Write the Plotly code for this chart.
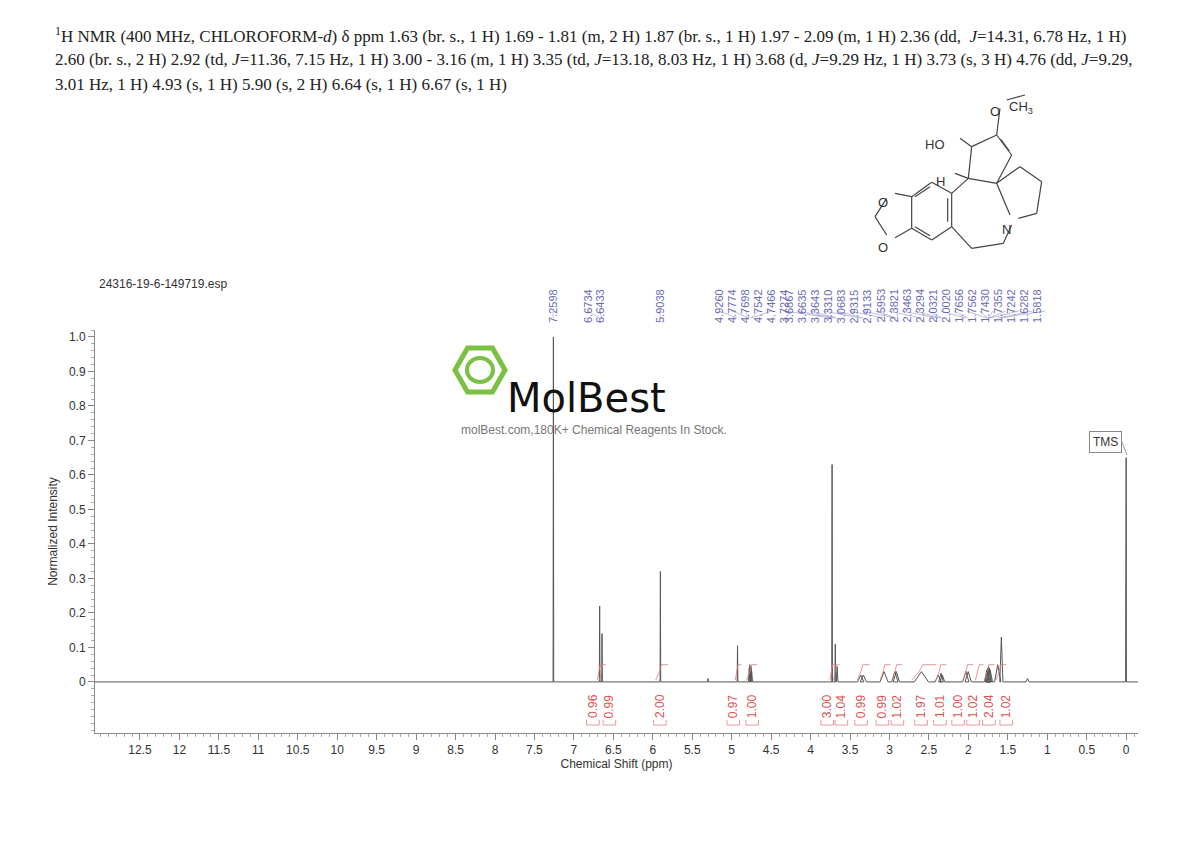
import plotly.graph_objects as go

# peak list: position (ppm), normalized height, half width (ppm)
peak_ppm = [7.2598, 6.6734, 6.6433, 5.9038, 5.30, 4.9260, 4.7774, 4.7698, 4.7542, 4.7466,
            3.7274, 3.6867, 3.6635, 3.3643, 3.3310, 3.0683, 2.9315, 2.9133, 2.5953,
            2.3821, 2.3463, 2.3294, 2.0321, 2.0020, 1.7656, 1.7562, 1.7430, 1.7355,
            1.7242, 1.6282, 1.5818, 1.25, 0.0, 0.004]
peak_height = [1.0, 0.22, 0.14, 0.32, 0.01, 0.105, 0.04, 0.05, 0.045, 0.03,
               0.63, 0.11, 0.045, 0.02, 0.02, 0.03, 0.03, 0.03, 0.03,
               0.02, 0.025, 0.02, 0.03, 0.03, 0.035, 0.04, 0.045, 0.04,
               0.035, 0.05, 0.13, 0.01, 0.65, 0.32]
peak_width = [0.004, 0.004, 0.004, 0.004, 0.004, 0.005, 0.01, 0.01, 0.01, 0.01,
              0.004, 0.006, 0.01, 0.04, 0.04, 0.05, 0.04, 0.04, 0.09,
              0.04, 0.03, 0.03, 0.04, 0.04, 0.03, 0.03, 0.03, 0.03,
              0.03, 0.04, 0.02, 0.02, 0.003, 0.003]

# picked peak labels (blue, top)
label_values = ["7.2598", "6.6734", "6.6433", "5.9038", "4.9260", "4.7774", "4.7698", "4.7542",
                "4.7466", "3.7274", "3.6867", "3.6635", "3.3643", "3.3310", "3.0683", "2.9315",
                "2.9133", "2.5953", "2.3821", "2.3463", "2.3294", "2.0321", "2.0020", "1.7656",
                "1.7562", "1.7430", "1.7355", "1.7242", "1.6282", "1.5818"]
label_px = [553, 588, 600, 660] + [719 + 13.04 * i for i in range(26)]

# integrals: label position (ppm), value
integral_ppm = [6.76, 6.55, 5.91, 4.98, 4.74, 3.79, 3.61, 3.36, 3.09, 2.90, 2.60, 2.36, 2.13, 1.94, 1.74, 1.52]
integral_val = ["0.96", "0.99", "2.00", "0.97", "1.00", "3.00", "1.04", "0.99", "0.99", "1.02",
                "1.97", "1.01", "1.00", "1.02", "2.04", "1.02"]

x_ticks = [12.5 - 0.5 * i for i in range(26)]
y_ticks = [0, 0.1, 0.2, 0.3, 0.4, 0.5, 0.6, 0.7, 0.8, 0.9, 1.0]

X0, X1 = 13.07, -0.15
Y0, Y1 = -0.148, 1.02


def paper_x(px):
    return (px - 95) / 1043


def paper_y(py):
    return (733 - py) / 403


# spectrum trace: baseline with peaks
xs, ys = [X0], [0]
for p, h, w in sorted(zip(peak_ppm, peak_height, peak_width), reverse=True):
    xs += [p + w, p, p - w]
    ys += [0, h, 0]
xs.append(X1)
ys.append(0)

fig = go.Figure()
fig.add_trace(go.Scatter(x=xs, y=ys, mode="lines", line=dict(color="#555555", width=1),
                         hoverinfo="skip", showlegend=False))

# integral curves (red) over each region
for p, w in zip([6.6734, 6.6433, 5.9038, 4.926, 4.76, 3.7274, 3.68, 3.35, 3.07, 2.92, 2.60, 2.36, 2.02, 1.87, 1.75, 1.60],
                [0.03, 0.03, 0.06, 0.03, 0.05, 0.03, 0.03, 0.06, 0.05, 0.05, 0.12, 0.05, 0.05, 0.04, 0.05, 0.05]):
    fig.add_trace(go.Scatter(x=[p + w, p + w * 0.2, p - w * 0.2, p - w * 1.6],
                             y=[0.005, 0.03, 0.05, 0.05], mode="lines",
                             line=dict(color="#e08080", width=0.8), hoverinfo="skip", showlegend=False))

shapes = []
annotations = []
for v, p in zip(integral_val, integral_ppm):
    annotations.append(dict(x=p, y=-0.07, xref="x", yref="y", text=v, textangle=-90, showarrow=False,
                            font=dict(family="Liberation Sans", size=12, color="#e05050")))
    shapes.append(dict(type="path", xref="x", yref="y", line=dict(color="#e08080", width=0.8),
                       path=f"M {p + 0.08},-0.11 L {p + 0.08},-0.125 L {p - 0.08},-0.125 L {p - 0.08},-0.11"))

for t, px, p in zip(label_values, label_px, [float(v) for v in label_values]):
    annotations.append(dict(x=paper_x(px), y=paper_y(287), xref="paper", yref="paper", text=t,
                            textangle=-90, showarrow=False,
                            font=dict(family="Liberation Sans", size=11, color="#6a6ab5")))
    shapes.append(dict(type="line", xref="paper", yref="paper", x0=paper_x(px), y0=paper_y(311),
                       x1=(1126 - p * 78.9 - 95) / 1043, y1=paper_y(318),
                       line=dict(color="#9090c8", width=0.6)))

title_lines = [
    "<sup>1</sup>H NMR (400 MHz, CHLOROFORM-<i>d</i>) δ ppm 1.63 (br. s., 1 H) 1.69 - 1.81 (m, 2 H) 1.87 (br. s., 1 H) 1.97 - 2.09 (m, 1 H) 2.36 (dd,  <i>J</i>=14.31, 6.78 Hz, 1 H)",
    "2.60 (br. s., 2 H) 2.92 (td, <i>J</i>=11.36, 7.15 Hz, 1 H) 3.00 - 3.16 (m, 1 H) 3.35 (td, <i>J</i>=13.18, 8.03 Hz, 1 H) 3.68 (d, <i>J</i>=9.29 Hz, 1 H) 3.73 (s, 3 H) 4.76 (dd, <i>J</i>=9.29,",
    "3.01 Hz, 1 H) 4.93 (s, 1 H) 5.90 (s, 2 H) 6.64 (s, 1 H) 6.67 (s, 1 H)",
]
for i, line in enumerate(title_lines):
    annotations.append(dict(x=paper_x(53), y=paper_y(22 + 25.5 * i), xref="paper", yref="paper",
                            text=line, showarrow=False, xanchor="left",
                            font=dict(family="Liberation Serif", size=17, color="#222222")))

annotations += [
    dict(x=paper_x(97), y=paper_y(275), xref="paper", yref="paper", text="24316-19-6-149719.esp",
         showarrow=False, xanchor="left", font=dict(family="Liberation Sans", size=12, color="#333333")),
    dict(x=paper_x(1122), y=paper_y(431), xref="paper", yref="paper", text="TMS", showarrow=False,
         bordercolor="#888888", borderwidth=1, borderpad=3, bgcolor="white",
         font=dict(family="Liberation Sans", size=12, color="#333333")),
    dict(x=paper_x(586), y=paper_y(373), xref="paper", yref="paper", text="MolBest",
         showarrow=False, font=dict(family="DejaVu Sans", size=40, color="#111111")),
    dict(x=paper_x(594), y=paper_y(421), xref="paper", yref="paper",
         text="molBest.com,180K+ Chemical Reagents In Stock.", showarrow=False,
         font=dict(family="Liberation Sans", size=12, color="#777777")),
]
shapes.append(dict(type="line", xref="paper", yref="paper", x0=paper_x(1122), y0=paper_y(442),
                   x1=paper_x(1127), y1=paper_y(455), line=dict(color="#888888", width=0.8)))

# logo hexagon
hx, hy, r = 480, 370, 25
pts = [(hx - r, hy), (hx - r / 2, hy - 22), (hx + r / 2, hy - 22), (hx + r, hy), (hx + r / 2, hy + 22), (hx - r / 2, hy + 22)]
shapes.append(dict(type="path", xref="paper", yref="paper", line=dict(color="#7ac143", width=5),
                   path="M " + " L ".join(f"{paper_x(a)},{paper_y(b)}" for a, b in pts) + " Z"))
shapes.append(dict(type="circle", xref="paper", yref="paper", x0=paper_x(467), x1=paper_x(493),
                   y0=paper_y(382), y1=paper_y(358), line=dict(color="#7ac143", width=4)))

# molecule skeleton (zoomed image coordinates -> page px)
bonds = [((245, 292), (305, 325)), ((305, 325), (305, 425)), ((305, 425), (245, 465)), ((245, 465), (185, 430)),
         ((185, 430), (185, 335)), ((185, 335), (245, 292)), ((293, 340), (293, 410)), ((240, 305), (195, 335)),
         ((240, 452), (195, 425)), ((185, 335), (135, 325)), ((185, 430), (135, 458)), ((110, 340), (75, 395)),
         ((75, 395), (110, 450)), ((305, 325), (355, 280)), ((355, 280), (440, 295)), ((355, 280), (365, 185)),
         ((365, 185), (440, 150)), ((440, 150), (485, 210)), ((452, 162), (478, 198)), ((485, 210), (440, 295)),
         ((440, 150), (450, 70)), ((470, 45), (525, 30)), ((440, 295), (510, 245)), ((510, 245), (575, 290)),
         ((575, 290), (560, 385)), ((560, 385), (505, 400)), ((480, 390), (440, 295)), ((485, 420), (460, 475)),
         ((460, 475), (365, 490)), ((365, 490), (305, 425)), ((365, 185), (330, 160)), ((355, 280), (315, 265))]
for (a, b), (c, d) in bonds:
    shapes.append(dict(type="line", xref="paper", yref="paper",
                       x0=paper_x(850 + a / 3), y0=paper_y(85 + b / 3),
                       x1=paper_x(850 + c / 3), y1=paper_y(85 + d / 3),
                       line=dict(color="#444444", width=1.2)))
for t, a, b in [("O", 120, 325), ("O", 120, 460), ("HO", 290, 150), ("H", 290, 262), ("O", 455, 50),
                ("CH<sub>3</sub>", 555, 35), ("N", 490, 405)]:
    annotations.append(dict(x=paper_x(850 + a / 3), y=paper_y(85 + b / 3), xref="paper", yref="paper",
                            text=t, showarrow=False,
                            font=dict(family="Liberation Sans", size=13, color="#333333")))

fig.update_layout(
    width=1190, height=841,
    margin=dict(l=87, r=60, t=322, b=116),
    paper_bgcolor="white", plot_bgcolor="white",
    shapes=shapes, annotations=annotations,
    xaxis=dict(range=[X0, X1], tickvals=x_ticks, ticktext=[f"{v:g}" if v else "0" for v in x_ticks],
               ticks="outside", ticklen=6, tickcolor="#888888", showgrid=False, zeroline=False,
               showline=True, linecolor="#888888",
               minor=dict(dtick=0.1, ticks="outside", ticklen=3, tickcolor="#aaaaaa"),
               title=dict(text="Chemical Shift (ppm)", font=dict(family="Liberation Sans", size=12, color="#333333"),
                          standoff=2),
               tickfont=dict(family="Liberation Sans", size=12, color="#333333")),
    yaxis=dict(range=[Y0, Y1], tickvals=y_ticks, ticktext=["0"] + [f"{v:.1f}" for v in y_ticks[1:]],
               ticks="outside", ticklen=6, tickcolor="#888888", showgrid=False, zeroline=False,
               showline=True, linecolor="#888888",
               minor=dict(dtick=0.02, ticks="outside", ticklen=3, tickcolor="#aaaaaa"),
               title=dict(text="Normalized Intensity", font=dict(family="Liberation Sans", size=12, color="#333333"),
                          standoff=8),
               tickfont=dict(family="Liberation Sans", size=12, color="#333333")),
)

fig.write_html("out.html")
